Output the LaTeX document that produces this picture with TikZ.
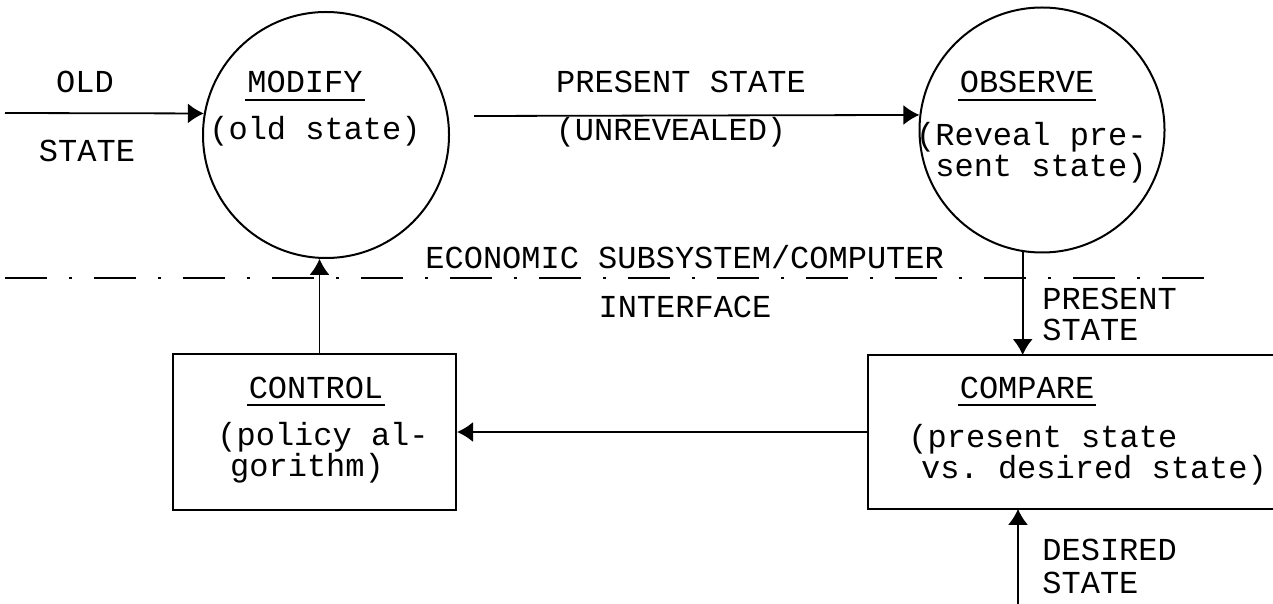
\documentclass[tikz,border=0pt]{standalone}
\usepackage{fontspec}
\setmonofont{Liberation Mono}
\usetikzlibrary{arrows.meta,positioning,shapes}
\newcommand{\ulin}[1]{\setbox0\hbox{#1}\rlap{\kern-1pt\rule[-4pt]{\dimexpr\wd0+2pt\relax}{1.1pt}}\box0}

\begin{document}
\begin{tikzpicture}[x=0.5pt, y=-0.5pt, font=\ttfamily\fontsize{16}{15.5}\selectfont]
\tikzstyle{bubble} = [circle, draw, line width=1pt, inner sep=0pt, minimum size=123pt]
\tikzstyle{block} = [rectangle, inner sep=0pt]
\tikzstyle{txt} = [inner sep=0pt, anchor=base]
\tikzstyle{arrow} = [-{Latex[length=8pt,width=10pt]}, line width=0.9pt]
\useasboundingbox (0,0) rectangle (1273,604);

\node (mod) [bubble] at (326,135) {};
\node (obs) [bubble, minimum size=122.5pt] at (1042,130) {};
\node (ctrl) [block, draw, line width=1pt, minimum width=141.5pt, minimum height=78pt] at (314.5,432) {};
\node (cmp) [block, minimum width=202.5pt, minimum height=76.5pt] at (1070.5,432) {};
\draw[line width=1pt] (cmp.north east) -- (cmp.north west) -- (cmp.south west) -- (cmp.south east);

\node (old) [txt] at (85,93) {OLD};
\node (oldst) [txt] at (87,162) {STATE};
\node (modname) [txt] at (305,93) {\ulin{MODIFY}};
\node (modsub) [txt] at (315,140) {(old state)};
\node (pres) [txt] at (681,93) {PRESENT STATE};
\node (unrev) [txt] at (671,141) {(UNREVEALED)};
\node (obsname) [txt] at (1027,93) {\ulin{OBSERVE}};
\node (obssub) [txt, anchor=base east, align=right] at (1147,177) {(Reveal pre-\\sent state)};
\node (econ) [txt, anchor=base west] at (425,268) {ECONOMIC SUBSYSTEM/COMPUTER};
\node (intf) [txt] at (685,317) {INTERFACE};
\node (pres2) [txt, anchor=base west, align=left] at (1042,340) {PRESENT\\STATE};
\node (cmpname) [txt] at (1027,398) {\ulin{COMPARE}};
\node (cmpsub) [txt, anchor=base west, align=left] at (908,478) {(present state\\\hspace*{0.4em}vs. desired state)};
\node (desst) [txt, anchor=base west, align=left] at (1042,593) {DESIRED\\[1pt]STATE};
\node (ctrlname) [txt] at (316,398) {\ulin{CONTROL}};
\node (ctrlsub) [txt, anchor=base west, align=left] at (217,476) {(policy al-\\\hspace*{0.4em}gorithm)};

\coordinate (oldin) at (5,113);
\coordinate (presin) at (474,116);
\coordinate (desin) at (1018,604);
\coordinate (ifl) at (5,278); \coordinate (ifr) at (1210,278);
\draw[arrow] (oldin)--(mod.170); \draw[arrow] (presin)--(obs.173);
\draw[arrow] (obs.-99)--(obs.-99 |- cmp.north);
\draw[arrow] (cmp.west)--(ctrl.east);
\draw[arrow] (mod.-93 |- ctrl.north)--(mod.-93);
\draw[arrow] (desin)--(desin |- cmp.south);
\draw[line width=1.4pt, dash pattern=on 21pt off 11pt on 1.5pt off 11pt] (ifl)--(ifr);
\end{tikzpicture}
\end{document}
